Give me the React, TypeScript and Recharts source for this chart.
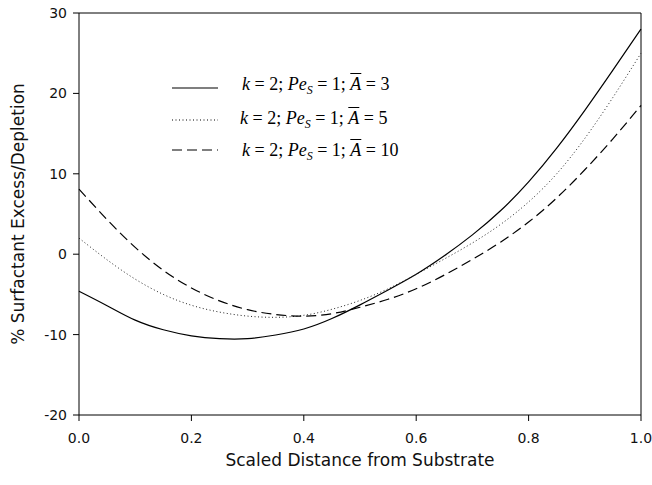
import { LineChart, Line, XAxis, YAxis, Legend, ReferenceLine } from 'recharts'

const distance = [0, 0.05, 0.1, 0.15, 0.2, 0.25, 0.3, 0.35, 0.4, 0.45, 0.5, 0.55, 0.6, 0.65, 0.7, 0.75, 0.8, 0.85, 0.9, 0.95, 1.0]
const abar3 = [-4.6, -6.4, -8.2, -9.4, -10.15, -10.5, -10.5, -10.05, -9.3, -8.0, -6.3, -4.45, -2.5, -0.2, 2.4, 5.4, 9.0, 13.2, 17.9, 22.9, 28.0]
const abar5 = [2.0, -0.7, -3.1, -5.0, -6.35, -7.2, -7.7, -7.85, -7.6, -6.85, -5.75, -4.3, -2.5, -0.6, 1.4, 3.7, 6.5, 10.0, 14.4, 19.5, 25.0]
const abar10 = [8.1, 4.3, 0.85, -2.0, -4.2, -5.8, -6.9, -7.5, -7.7, -7.4, -6.6, -5.6, -4.3, -2.6, -0.65, 1.5, 4.0, 7.0, 10.5, 14.35, 18.5]

const xTicks = [0, 0.2, 0.4, 0.6, 0.8, 1.0]
const yTicks = [-20, -10, 0, 10, 20, 30]
const legendValues = ['3', '5', '10']

const data = distance.map((x, i) => ({ x, a3: abar3[i], a5: abar5[i], a10: abar10[i] }))

const tickStyle = { fill: '#111', fontSize: 14, fontFamily: 'DejaVu Sans' }
const dashes = ['0', '1 2.5', '10 5']

function LegendBox() {
  // line sample y and text baseline for each row
  const rows = [
    { lineY: 18, base: 20 },
    { lineY: 50, base: 54 },
    { lineY: 80, base: 86 },
  ]
  return (
    <div style={{ position: 'relative', width: 260, height: 100, fontFamily: 'Liberation Serif', color: '#000' }}>
      <svg width={60} height={100} style={{ position: 'absolute', left: 0, top: 0 }}>
        {rows.map((r, i) => (
          <line key={i} x1={12} x2={58} y1={r.lineY} y2={r.lineY} stroke="#000" strokeWidth={i === 1 ? 1 : 1.2} strokeDasharray={dashes[i]} />
        ))}
      </svg>
      {rows.map((r, i) => (
        <div
          key={i}
          style={{ position: 'absolute', left: i === 1 ? 80 : 82, top: r.base - 15, fontSize: 18, lineHeight: '18px', whiteSpace: 'nowrap' }}
        >
          <i>k</i> = 2; <i>Pe</i>
          <sub style={{ fontSize: 12, lineHeight: 0, verticalAlign: '-4px', fontStyle: 'italic' }}>S</sub> = 1;{' '}
          <i style={{ textDecoration: 'overline' }}>A</i> = {legendValues[i]}
        </div>
      ))}
    </div>
  )
}

export default function App() {
  return (
    <div style={{ position: 'absolute', left: 0, top: 0, background: '#fff' }}>
      <LineChart width={652} height={485} data={data} margin={{ top: 13, right: 11, bottom: 0, left: 0 }}>
        <XAxis
          dataKey="x"
          type="number"
          domain={[0, 1]}
          ticks={xTicks}
          interval={0}
          height={70}
          tickSize={6}
          tickMargin={12}
          stroke="#000"
          tick={tickStyle}
          tickFormatter={(v: number) => v.toFixed(1)}
          label={{
            content: (p: any) => (
              <text x={p.viewBox.x + p.viewBox.width / 2} y={466} textAnchor="middle" fontSize={17} fontFamily="DejaVu Sans" fill="#111">
                Scaled Distance from Substrate
              </text>
            ),
          }}
        />
        <YAxis
          type="number"
          domain={[-20, 30]}
          ticks={yTicks}
          interval={0}
          width={79}
          tickSize={6}
          tickMargin={6}
          stroke="#000"
          tick={tickStyle}
          label={{
            content: (p: any) => {
              const cy = p.viewBox.y + p.viewBox.height / 2
              return (
                <text x={24} y={cy} transform={`rotate(-90 24 ${cy})`} textAnchor="middle" fontSize={17} fontFamily="DejaVu Sans" fill="#111">
                  % Surfactant Excess/Depletion
                </text>
              )
            },
          }}
        />
        <ReferenceLine y={30} stroke="#000" strokeWidth={1} />
        <ReferenceLine x={1} stroke="#000" strokeWidth={1} />
        <Legend
          layout="horizontal"
          verticalAlign="middle"
          align="center"
          content={() => <LegendBox />}
          wrapperStyle={{ left: 160, top: 70, width: 260, height: 100 }}
        />
        <Line dataKey="a3" type="natural" stroke="#000" strokeWidth={1.2} dot={false} isAnimationActive={false} />
        <Line dataKey="a5" type="natural" stroke="#222" strokeWidth={1} strokeDasharray="1 2.5" dot={false} isAnimationActive={false} />
        <Line dataKey="a10" type="natural" stroke="#000" strokeWidth={1.2} strokeDasharray="10 5" dot={false} isAnimationActive={false} />
      </LineChart>
    </div>
  )
}
